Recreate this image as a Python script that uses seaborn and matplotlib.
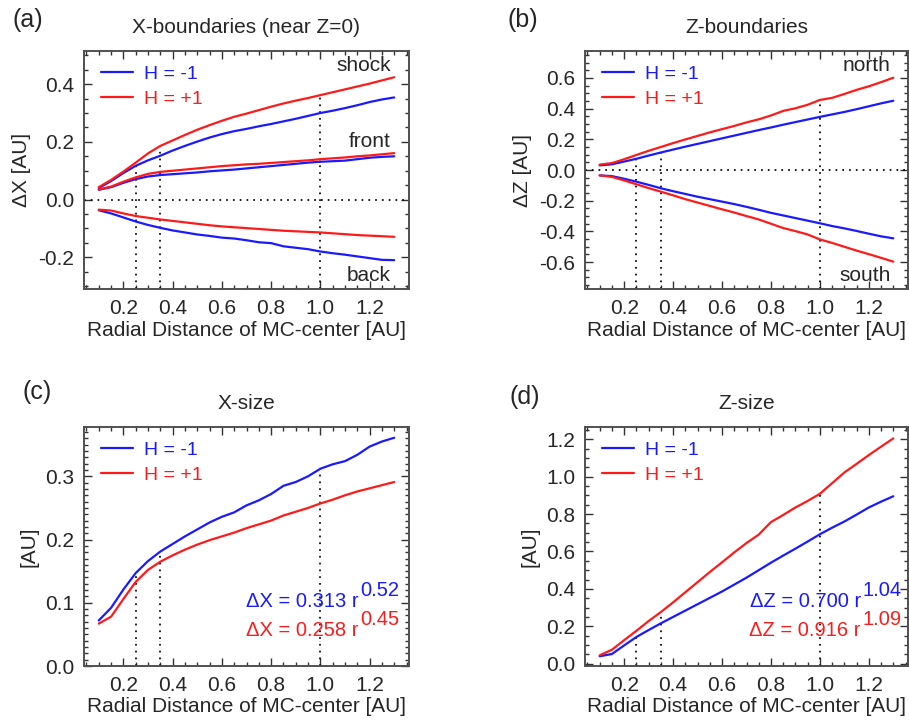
import numpy as np
import pandas as pd
import matplotlib
matplotlib.use("Agg")
import matplotlib.pyplot as plt
import seaborn as sns
from matplotlib.ticker import MultipleLocator, FuncFormatter

# ---------------- data ----------------
r = [0.10, 0.15, 0.20, 0.25, 0.30, 0.35, 0.40, 0.45, 0.50, 0.55, 0.60, 0.65, 0.70,
     0.75, 0.80, 0.85, 0.90, 0.95, 1.00, 1.05, 1.10, 1.15, 1.20, 1.25, 1.30]

# (a) X-boundaries
shock_m = [0.040, 0.064, 0.092, 0.117, 0.136, 0.152, 0.170, 0.186, 0.201, 0.215, 0.227, 0.237, 0.245,
           0.254, 0.262, 0.271, 0.280, 0.290, 0.300, 0.308, 0.317, 0.327, 0.338, 0.347, 0.354]
shock_p = [0.043, 0.068, 0.097, 0.128, 0.160, 0.186, 0.205, 0.224, 0.242, 0.258, 0.273, 0.287, 0.298,
           0.310, 0.322, 0.333, 0.343, 0.352, 0.362, 0.372, 0.382, 0.392, 0.402, 0.413, 0.424]
front_m = [0.034, 0.043, 0.058, 0.071, 0.080, 0.085, 0.088, 0.091, 0.094, 0.098, 0.101, 0.104, 0.108,
           0.112, 0.116, 0.120, 0.124, 0.128, 0.131, 0.133, 0.135, 0.140, 0.145, 0.148, 0.150]
front_p = [0.035, 0.045, 0.062, 0.077, 0.089, 0.096, 0.100, 0.104, 0.108, 0.112, 0.116, 0.119, 0.122,
           0.124, 0.127, 0.130, 0.133, 0.136, 0.140, 0.143, 0.146, 0.150, 0.153, 0.157, 0.161]
back_m = [-0.037, -0.048, -0.062, -0.076, -0.088, -0.098, -0.107, -0.114, -0.121, -0.126, -0.132, -0.135, -0.141,
          -0.148, -0.151, -0.162, -0.167, -0.172, -0.180, -0.186, -0.191, -0.197, -0.203, -0.209, -0.210]
back_p = [-0.035, -0.038, -0.048, -0.057, -0.063, -0.069, -0.074, -0.079, -0.084, -0.089, -0.093, -0.096, -0.099,
          -0.102, -0.105, -0.108, -0.110, -0.112, -0.114, -0.117, -0.120, -0.123, -0.125, -0.127, -0.129]

# (b) Z-boundaries
north_m = [0.030, 0.037, 0.055, 0.073, 0.094, 0.114, 0.133, 0.152, 0.170, 0.188, 0.206, 0.224, 0.242,
           0.260, 0.277, 0.295, 0.312, 0.329, 0.346, 0.362, 0.378, 0.396, 0.415, 0.434, 0.451]
north_p = [0.035, 0.045, 0.070, 0.098, 0.125, 0.150, 0.175, 0.199, 0.222, 0.245, 0.266, 0.287, 0.310,
           0.330, 0.355, 0.385, 0.402, 0.425, 0.456, 0.470, 0.495, 0.522, 0.545, 0.572, 0.601]
south_m = [-0.035, -0.040, -0.057, -0.076, -0.097, -0.119, -0.138, -0.156, -0.174, -0.190, -0.206, -0.222, -0.240,
           -0.259, -0.279, -0.296, -0.313, -0.330, -0.347, -0.365, -0.380, -0.397, -0.415, -0.432, -0.445]
south_p = [-0.035, -0.045, -0.068, -0.093, -0.118, -0.141, -0.165, -0.190, -0.212, -0.234, -0.256, -0.277, -0.300,
           -0.322, -0.350, -0.378, -0.398, -0.420, -0.452, -0.475, -0.500, -0.525, -0.548, -0.572, -0.597]

# (c) X-size
xsize_m = [0.072, 0.092, 0.121, 0.147, 0.166, 0.181, 0.193, 0.205, 0.216, 0.227, 0.236, 0.243, 0.254,
           0.262, 0.272, 0.285, 0.291, 0.300, 0.312, 0.319, 0.324, 0.334, 0.347, 0.355, 0.361]
xsize_p = [0.067, 0.078, 0.106, 0.133, 0.152, 0.165, 0.175, 0.184, 0.192, 0.199, 0.205, 0.211, 0.218,
           0.224, 0.230, 0.238, 0.244, 0.250, 0.257, 0.263, 0.270, 0.276, 0.281, 0.286, 0.291]

# (d) Z-size
zsize_m = [0.040, 0.052, 0.098, 0.143, 0.180, 0.216, 0.250, 0.284, 0.318, 0.352, 0.386, 0.423, 0.460,
           0.500, 0.540, 0.578, 0.615, 0.653, 0.692, 0.727, 0.760, 0.797, 0.835, 0.866, 0.895]
zsize_p = [0.045, 0.075, 0.126, 0.176, 0.228, 0.276, 0.328, 0.382, 0.436, 0.490, 0.542, 0.595, 0.645,
           0.690, 0.757, 0.795, 0.835, 0.870, 0.908, 0.965, 1.022, 1.068, 1.115, 1.160, 1.204]

hue_labels = ["H = -1", "H = +1"]
marker_r = [0.25, 0.35, 1.0]

# fit formulas (text, exponent)
fit_c = [("ΔX = 0.313 r", "0.52"), ("ΔX = 0.258 r", "0.45")]
fit_d = [("ΔZ = 0.700 r", "1.04"), ("ΔZ = 0.916 r", "1.09")]

# ---------------- style ----------------
sns.set_style("ticks")
plt.rcParams["font.family"] = ["Liberation Sans", "DejaVu Sans"]

pal = {"H = -1": "#1a1aff", "H = +1": "#ff1a1a"}
FS = 15
DOT = (0, (1, 2.9))

fig = plt.figure(figsize=(9.09, 7.22), dpi=100)
W = 909.0
H = 722.0


def make_ax(left, right, top, bottom):
    return fig.add_axes([left / W, 1 - bottom / H, (right - left) / W, (bottom - top) / H])


axa = make_ax(84, 409, 51, 289)
axb = make_ax(585, 908, 51, 289)
axc = make_ax(84, 409, 427, 666)
axd = make_ax(585, 908, 427, 666)


def fmt1(v, pos):
    return f"{v:.1f}"


def draw(ax, pairs, ylim, ymaj, ymin_, title, ylabel, xlabel, zero=False):
    frames = []
    for k, (m, p) in enumerate(pairs):
        frames.append(pd.DataFrame({"r": r, "v": m, "H": hue_labels[0], "b": f"b{k}"}))
        frames.append(pd.DataFrame({"r": r, "v": p, "H": hue_labels[1], "b": f"b{k}"}))
    df = pd.concat(frames, ignore_index=True)
    sns.lineplot(data=df, x="r", y="v", hue="H", units="b", estimator=None,
                 hue_order=hue_labels, palette=pal, lw=1.6, ax=ax, legend=True)
    leg = ax.get_legend()
    handles = leg.legend_handles
    labels = [t.get_text() for t in leg.get_texts()]
    ax.legend(handles, labels, loc="upper left", bbox_to_anchor=(0.008, 1.0),
              frameon=False, labelcolor="linecolor", fontsize=14,
              handlelength=1.65, handletextpad=0.55, labelspacing=0.38,
              borderaxespad=0.35, borderpad=0.4)
    for h in ax.get_legend().legend_handles:
        h.set_linewidth(1.6)

    ax.set_xlim(0.04, 1.36)
    ax.set_ylim(*ylim)
    allseries = [s for pr in pairs for s in pr]
    for x0 in marker_r:
        top = max(np.interp(x0, r, s) for s in allseries)
        ax.vlines(x0, ylim[0], top, colors="black", linestyles=DOT, lw=1.25, zorder=1)
    if zero:
        ax.axhline(0, color="black", ls=DOT, lw=1.25, zorder=1)

    ax.xaxis.set_major_locator(MultipleLocator(0.2))
    ax.xaxis.set_minor_locator(MultipleLocator(0.05))
    ax.yaxis.set_major_locator(MultipleLocator(ymaj))
    ax.yaxis.set_minor_locator(MultipleLocator(ymin_))
    ax.xaxis.set_major_formatter(FuncFormatter(fmt1))
    ax.yaxis.set_major_formatter(FuncFormatter(fmt1))
    ax.tick_params(which="both", direction="in", top=True, right=True,
                   color="#333333", width=1.0, labelsize=FS)
    ax.tick_params(which="major", length=5.5, pad=7)
    ax.tick_params(which="minor", length=3)
    for s in ax.spines.values():
        s.set_linewidth(1.4)
        s.set_color("#505050")
    ax.set_title(title, fontsize=FS, pad=13)
    ax.set_ylabel(ylabel, fontsize=FS, labelpad=5)
    ax.set_xlabel(xlabel, fontsize=FS, labelpad=2)


XL = "Radial Distance of MC-center [AU]"
draw(axa, [(shock_m, shock_p), (front_m, front_p), (back_m, back_p)],
     (-0.31, 0.515), 0.2, 0.05, "X-boundaries (near Z=0)", "ΔX [AU]", XL, zero=True)
draw(axb, [(north_m, north_p), (south_m, south_p)],
     (-0.775, 0.775), 0.2, 0.05, "Z-boundaries", "ΔZ [AU]", XL, zero=True)
draw(axc, [(xsize_m, xsize_p)], (0.0, 0.378), 0.1, 0.01, "X-size", "[AU]", XL)
draw(axd, [(zsize_m, zsize_p)], (-0.012, 1.265), 0.2, 0.05, "Z-size", "[AU]", XL)

# boundary names
axa.text(0.944, 0.941, "shock", transform=axa.transAxes, ha="right", va="center", fontsize=FS)
axa.text(0.944, 0.619, "front", transform=axa.transAxes, ha="right", va="center", fontsize=FS)
axa.text(0.944, 0.055, "back", transform=axa.transAxes, ha="right", va="center", fontsize=FS)
axb.text(0.947, 0.941, "north", transform=axb.transAxes, ha="right", va="center", fontsize=FS)
axb.text(0.947, 0.055, "south", transform=axb.transAxes, ha="right", va="center", fontsize=FS)


# fit formulas with near full-size raised exponents
def formula(ax, fits, x_main, x_sup):
    cols = [pal[hue_labels[0]], pal[hue_labels[1]]]
    for (main, expo), col, yb, ys in zip(fits, cols, [0.248, 0.127], [0.293, 0.171]):
        ax.text(x_main, yb, main, transform=ax.transAxes, ha="right", va="baseline",
                fontsize=14.5, color=col)
        ax.text(x_sup, ys, expo, transform=ax.transAxes, ha="left", va="baseline",
                fontsize=14.5, color=col)


formula(axc, fit_c, 0.846, 0.850)
formula(axd, fit_d, 0.854, 0.858)

# panel letters
fig.text(12 / W, 1 - 20 / H, "(a)", fontsize=18, va="center", ha="left")
fig.text(508 / W, 1 - 20 / H, "(b)", fontsize=18, va="center", ha="left")
fig.text(22 / W, 1 - 392 / H, "(c)", fontsize=18, va="center", ha="left")
fig.text(509 / W, 1 - 397 / H, "(d)", fontsize=18, va="center", ha="left")

fig.savefig("out.png", dpi=100)
